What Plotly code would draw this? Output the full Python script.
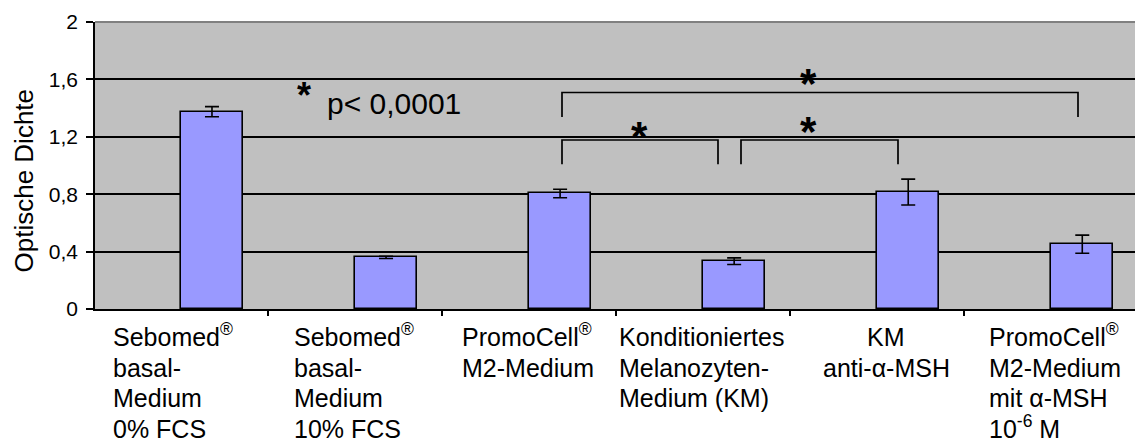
import plotly.graph_objects as go

# ---------------- data ----------------
CATEGORY_LINES = [
    ["Sebomed<sup>®</sup>", "basal-", "Medium", "0% FCS"],
    ["Sebomed<sup>®</sup>", "basal-", "Medium", "10% FCS"],
    ["PromoCell<sup>®</sup>", "M2-Medium"],
    ["Konditioniertes", "Melanozyten-", "Medium (KM)"],
    ["KM", "anti-α-MSH"],
    ["PromoCell<sup>®</sup>", "M2-Medium", "mit α-MSH", "10<sup>-6</sup> M"],
]
OPTICAL_DENSITY = [1.375, 0.36, 0.805, 0.333, 0.815, 0.452]
ERROR = [0.035, 0.008, 0.03, 0.023, 0.09, 0.063]
Y_TICK_VALUES = [0, 0.4, 0.8, 1.2, 1.6, 2.0]
Y_TICK_LABELS = ["0", "0,4", "0,8", "1,2", "1,6", "2"]
Y_TITLE = "Optische Dichte"
P_TEXT = "p&lt; 0,0001"
SIG_MARK = "*"

# ---------------- layout geometry ----------------
W, H = 1135, 444
ML, MR, MT, MB = 95, 0, 22, 135
X_RANGE = [-0.494, 5.481]
PLOT_W = W - ML - MR
PLOT_H = H - MT - MB
PLOT_BOTTOM = H - MB
CW = PLOT_W / (X_RANGE[1] - X_RANGE[0])   # px per category
YU = PLOT_H / 2.0                          # px per unit on y
BAR_W = 62 / CW

FONT = "Arial, 'Liberation Sans', sans-serif"


def xd(px):
    return X_RANGE[0] + (px - ML) / CW


def yd(py):
    return (PLOT_BOTTOM - py) / YU


def yp(py):
    return (PLOT_BOTTOM - py) / PLOT_H


def xp(px):
    return (px - ML) / PLOT_W


fig = go.Figure()
fig.add_trace(go.Bar(
    x=list(range(len(OPTICAL_DENSITY))),
    y=OPTICAL_DENSITY,
    width=BAR_W,
    offset=0,
    marker=dict(color="#9999ff", line=dict(color="black", width=1.6)),
    error_y=dict(type="data", array=ERROR, color="black", thickness=1.6, width=7),
    showlegend=False,
))

shapes = []
# top border of plot area
shapes.append(dict(type="line", xref="paper", yref="paper", x0=0, x1=1, y0=1, y1=1,
                   line=dict(color="#808080", width=2), layer="above"))

# significance brackets (x in px -> data, y in px -> data)
brackets = [
    (562, 1078, 92.5, 117),
    (562, 718, 140, 164.3),
    (741, 898, 140, 164.3),
]
for x0, x1, ytop, ybot in brackets:
    X0, X1, YT, YB = xd(x0), xd(x1), yd(ytop), yd(ybot)
    shapes.append(dict(type="path", xref="x", yref="y",
                       path=f"M {X0},{YB} L {X0},{YT} L {X1},{YT} L {X1},{YB}",
                       line=dict(color="black", width=1.7)))

annotations = []
# stars
stars = [(808, 74, 42), (639, 127, 42), (808, 122.7, 42), (303.7, 88, 36)]
for sx, sy, size in stars:
    annotations.append(dict(x=xd(sx), y=yd(sy), xref="x", yref="y", text=f"<b>{SIG_MARK}</b>",
                            showarrow=False, xanchor="center", yanchor="middle",
                            yshift=-0.2185 * size,
                            font=dict(family=FONT, size=size, color="black")))
# p-value text
annotations.append(dict(x=xd(325), y=yd(115 + 7.4), xref="x", yref="y", text=P_TEXT,
                        showarrow=False, xanchor="left", yanchor="bottom",
                        font=dict(family=FONT, size=30, color="black")))

# y-axis title
annotations.append(dict(x=xp(23), y=yp(180.5), xref="paper", yref="paper", text=Y_TITLE,
                        textangle=-90, showarrow=False, xanchor="center", yanchor="middle",
                        font=dict(family=FONT, size=26, color="black")))

# category labels (multi-line, one annotation per line)
LABEL_DX = [-68, -61, -67, -84, 9, -62]
LABEL_ALIGN = ["left", "left", "left", "left", "center", "left"]
BASELINES = [347, 377.5, 408, 438.5]
LABEL_SIZE = 25
for i, lines in enumerate(CATEGORY_LINES):
    center_px = ML + (i - X_RANGE[0]) * CW
    ax = center_px + LABEL_DX[i]
    if LABEL_ALIGN[i] == "left":
        ax -= 2
    for k, line in enumerate(lines):
        ybottom = BASELINES[k] + 0.212 * LABEL_SIZE + 1
        annotations.append(dict(x=xp(ax), y=yp(ybottom), xref="paper", yref="paper",
                                text=line, showarrow=False,
                                xanchor=LABEL_ALIGN[i], yanchor="bottom",
                                font=dict(family=FONT, size=LABEL_SIZE, color="black")))

fig.update_layout(
    width=W, height=H,
    margin=dict(l=ML, r=MR, t=MT, b=MB, pad=0),
    paper_bgcolor="white",
    plot_bgcolor="#c0c0c0",
    font=dict(family=FONT, color="black"),
    shapes=shapes,
    annotations=annotations,
    bargap=0,
)
fig.update_xaxes(
    range=X_RANGE,
    showgrid=False, zeroline=False,
    showline=True, linecolor="black", linewidth=1.6,
    ticks="outside", ticklen=5, tickwidth=1.5, tickcolor="black",
    tickvals=[i - 0.5 for i in range(len(CATEGORY_LINES) + 1)],
    showticklabels=False,
)
fig.update_yaxes(
    range=[0, 2],
    tickvals=Y_TICK_VALUES, ticktext=Y_TICK_LABELS,
    showgrid=True, gridcolor="black", gridwidth=1.6,
    zeroline=False,
    showline=True, linecolor="black", linewidth=1.6,
    ticks="outside", ticklen=7, tickwidth=1.5, tickcolor="black",
    tickfont=dict(family=FONT, size=21, color="black"),
    ticklabelstandoff=4,
)

fig.write_html("out.html", config={"displayModeBar": False},
               post_script="document.body.style.margin='0';document.body.style.overflow='hidden';")
